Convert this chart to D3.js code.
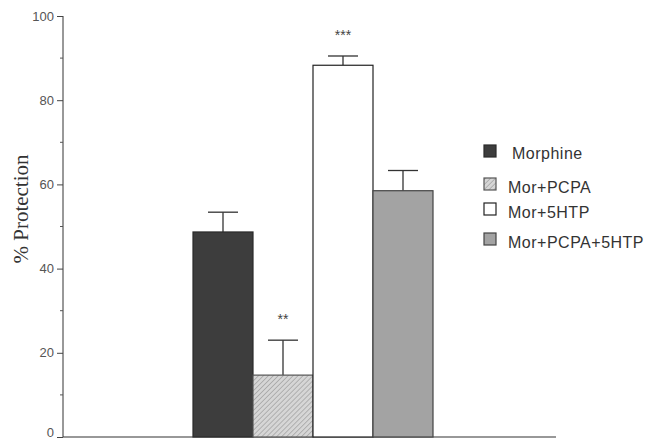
<!DOCTYPE html>
<html><head><meta charset="utf-8">
<script src="https://cdn.jsdelivr.net/npm/d3@7"></script>
<style>body{margin:0;background:#fff}svg{display:block}</style>
</head><body>
<script>
const categories = ["Morphine", "Mor+PCPA", "Mor+5HTP", "Mor+PCPA+5HTP"];
const means = [48.7, 14.7, 88.3, 58.5];
const errors = [4.7, 8.3, 2.2, 4.8];
const significance = ["", "**", "***", ""];
const yTicks = [0, 20, 40, 60, 80, 100];
const yMinorTicks = [10, 30, 50, 70, 90];
const yLabel = "% Protection";

const W = 659, H = 441;
const svg = d3.select("body").append("svg").attr("width", W).attr("height", H);
const defs = svg.append("defs");
const pat = defs.append("pattern").attr("id","hatch").attr("patternUnits","userSpaceOnUse")
  .attr("width",3.5).attr("height",3.5).attr("patternTransform","rotate(45)");
pat.append("rect").attr("width",3.5).attr("height",3.5).attr("fill","#d6d6d6");
pat.append("line").attr("x1",0).attr("y1",0).attr("x2",0).attr("y2",3.5).attr("stroke","#8f8f8f").attr("stroke-width",1.1);

const fills = ["#3d3d3d", "url(#hatch)", "#ffffff", "#a3a3a3"];
const strokes = ["#2a2a2a", "#555", "#222", "#444"];

const y = d3.scaleLinear().domain([0,100]).range([437,16]);
const x = d3.scaleBand().domain(categories).range([193,433]).padding(0);

// axis
const axisG = svg.append("g").attr("transform","translate(63,0)");
axisG.call(d3.axisLeft(y).tickValues(yTicks).tickSize(6).tickPadding(3))
  .call(g=>g.select(".domain").attr("stroke","#333").attr("d","M0,"+y(0)+"V"+y(100)))
  .call(g=>g.selectAll(".tick line").attr("stroke","#444"))
  .call(g=>g.selectAll(".tick text").attr("fill","#555").style("font-family","Liberation Sans, Arial, sans-serif").style("font-size","13px"))
  .call(g=>g.selectAll(".tick text").filter(d=>d===0).attr("dy","-0.05em"));
axisG.selectAll(".minor").data(yMinorTicks).join("line").attr("class","minor")
  .attr("x1",-3).attr("x2",0).attr("y1",d=>y(d)).attr("y2",d=>y(d)).attr("stroke","#555");

// x baseline
svg.append("line").attr("x1",63).attr("x2",556).attr("y1",y(0)).attr("y2",y(0)).attr("stroke","#333").attr("stroke-width",1.2);

// y label
svg.append("text").attr("transform","translate(28,"+209+") rotate(-90)")
  .attr("text-anchor","middle").style("font-family","Liberation Serif, Times New Roman, serif")
  .style("font-size","21px").attr("fill","#333").text(yLabel);

// error bars
const eb = svg.append("g");
categories.forEach((c,i)=>{
  const cx = x(c)+x.bandwidth()/2;
  eb.append("line").attr("x1",cx).attr("x2",cx).attr("y1",y(means[i])).attr("y2",y(means[i]+errors[i])).attr("stroke","#333").attr("stroke-width",1.3);
  eb.append("line").attr("x1",cx-15).attr("x2",cx+15).attr("y1",y(means[i]+errors[i])).attr("y2",y(means[i]+errors[i])).attr("stroke","#333").attr("stroke-width",1.3);
});

// bars
svg.append("g").selectAll("rect").data(categories).join("rect")
  .attr("x",d=>x(d)).attr("width",x.bandwidth())
  .attr("y",(d,i)=>y(means[i])).attr("height",(d,i)=>y(0)-y(means[i]))
  .attr("fill",(d,i)=>fills[i]).attr("stroke",(d,i)=>strokes[i]).attr("stroke-width",1.2);

// significance
svg.append("g").selectAll("text").data(categories).join("text")
  .attr("x",d=>x(d)+x.bandwidth()/2).attr("y",(d,i)=>y(means[i]+errors[i])-16)
  .attr("text-anchor","middle").style("font-family","Liberation Sans, Arial, sans-serif")
  .style("font-size","14px").attr("fill","#444").text((d,i)=>significance[i]);

// legend
const legY = [151, 184, 209, 239];
const leg = svg.append("g");
categories.forEach((c,i)=>{
  leg.append("rect").attr("x",484).attr("y",legY[i]-6).attr("width",12).attr("height",12)
    .attr("fill",fills[i]).attr("stroke",strokes[i]).attr("stroke-width",1.2);
  leg.append("text").attr("x", i===0?512:508).attr("y",legY[i]+ (i===0?2:3)).attr("dy","0.35em")
    .style("font-family","Liberation Sans, Arial, sans-serif").style("font-size","16px")
    .style("letter-spacing","0.5px").attr("fill","#333").text(c);
});
</script>
</body></html>
